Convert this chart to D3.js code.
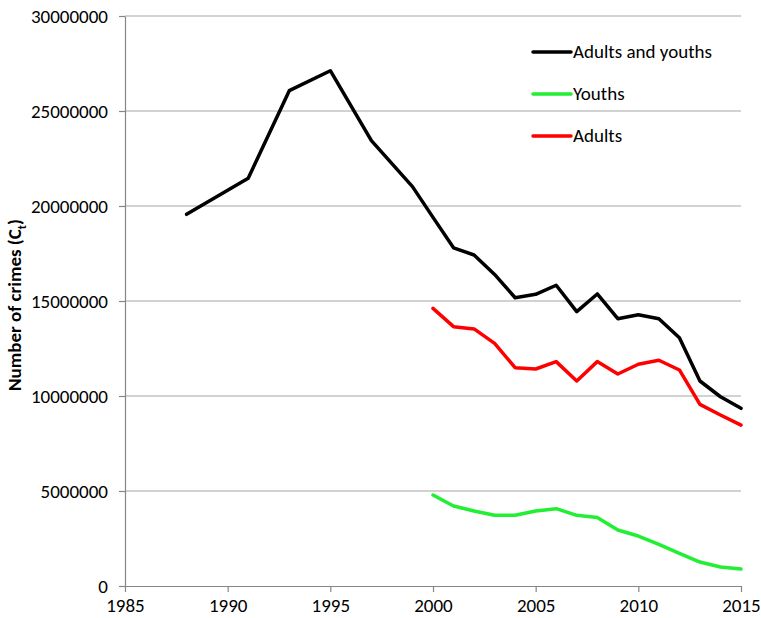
<!DOCTYPE html>
<html>
<head>
<meta charset="utf-8">
<script src="https://cdn.jsdelivr.net/npm/d3@7"></script>
<style>
  body { margin: 0; background: #fff; }
  svg text { font-family: Carlito, "Open Sans", "Noto Sans", sans-serif; fill: #000; }
</style>
</head>
<body>
<div id="chart"></div>
<script>
// values
var totalYears  = [1988, 1991, 1993, 1995, 1997, 1999, 2000, 2001, 2002, 2003, 2004, 2005, 2006, 2007, 2008, 2009, 2010, 2011, 2012, 2013, 2014, 2015];
var totalValues = [19560000, 21460000, 26070000, 27120000, 23440000, 21020000, 19400000, 17800000, 17420000, 16400000, 15170000, 15350000, 15830000, 14440000, 15370000, 14070000, 14280000, 14070000, 13070000, 10790000, 9960000, 9350000];

var splitYears  = [2000, 2001, 2002, 2003, 2004, 2005, 2006, 2007, 2008, 2009, 2010, 2011, 2012, 2013, 2014, 2015];
var youthValues = [4790000, 4210000, 3950000, 3720000, 3720000, 3950000, 4070000, 3720000, 3600000, 2950000, 2630000, 2190000, 1720000, 1260000, 1000000, 890000];
var adultValues = [14610000, 13650000, 13530000, 12770000, 11490000, 11420000, 11810000, 10790000, 11810000, 11160000, 11670000, 11880000, 11370000, 9560000, 9000000, 8470000];

var xTicks = [1985, 1990, 1995, 2000, 2005, 2010, 2015];
var yTicks = [0, 5000000, 10000000, 15000000, 20000000, 25000000, 30000000];

var series = [
  { name: "Adults and youths", color: "#000000", years: totalYears, values: totalValues },
  { name: "Youths",            color: "#22ee33", years: splitYears, values: youthValues },
  { name: "Adults",            color: "#ff0000", years: splitYears, values: adultValues }
];

var W = 761, H = 618;
var m = { left: 125, right: 20, top: 16, bottom: 32 };
var fs = 19;

var svg = d3.select("#chart").append("svg")
  .attr("width", W).attr("height", H);

var x = d3.scaleLinear().domain([1985, 2015]).range([m.left, W - m.right]);
var y = d3.scaleLinear().domain([0, 30000000]).range([H - m.bottom, m.top]);

//gridlines
svg.append("g").selectAll("line")
  .data(yTicks.slice(1))
  .enter().append("line")
  .attr("x1", x(1985)).attr("x2", x(2015))
  .attr("y1", function(d){ return y(d); })
  .attr("y2", function(d){ return y(d); })
  .attr("stroke", "#a6a6a6").attr("stroke-width", 1.2);

//axes
var xAxis = svg.append("g")
  .attr("transform", "translate(0," + y(0) + ")")
  .call(d3.axisBottom(x).tickValues(xTicks).tickFormat(d3.format("d")).tickSize(6).tickSizeOuter(0));
var yAxis = svg.append("g")
  .attr("transform", "translate(" + x(1985) + ",0)")
  .call(d3.axisLeft(y).tickValues(yTicks).tickFormat(d3.format("d")).tickSize(6).tickSizeOuter(0));

[xAxis, yAxis].forEach(function(a){
  a.select(".domain").attr("stroke", "#868686").attr("stroke-width", 1.2);
  a.selectAll(".tick line").attr("stroke", "#868686").attr("stroke-width", 1.2);
  a.selectAll(".tick text").attr("font-size", fs).attr("fill", "#000");
});
xAxis.selectAll(".tick text").attr("y", 10).attr("dy", "0.85em");
yAxis.selectAll(".tick text").attr("x", -17);

//y title
var yt = svg.append("text")
  .attr("transform", "translate(21," + ((m.top + H - m.bottom) / 2 + 4) + ") rotate(-90)")
  .attr("text-anchor", "middle")
  .attr("font-size", fs).attr("font-weight", "bold");
yt.append("tspan").text("Number of crimes (C");
yt.append("tspan").attr("font-size", 12).attr("dy", 5).text("t");
yt.append("tspan").attr("dy", -5).text(")");

//lines
var line = d3.line()
  .x(function(d){ return x(d[0]); })
  .y(function(d){ return y(d[1]); });

svg.append("g").selectAll("path")
  .data(series)
  .enter().append("path")
  .attr("d", function(s){ return line(d3.zip(s.years, s.values)); })
  .attr("fill", "none")
  .attr("stroke", function(s){ return s.color; })
  .attr("stroke-width", 3.5)
  .attr("stroke-linejoin", "round")
  .attr("stroke-linecap", "round");

//legend
var leg = svg.append("g").attr("transform", "translate(533,52)");
var items = leg.selectAll("g").data(series).enter().append("g")
  .attr("transform", function(d, i){ return "translate(0," + (i * 42) + ")"; });
items.append("line")
  .attr("x1", 0).attr("x2", 38).attr("y1", 0).attr("y2", 0)
  .attr("stroke", function(d){ return d.color; })
  .attr("stroke-width", 3.5).attr("stroke-linecap", "round");
items.append("text")
  .attr("x", 40).attr("y", 6)
  .attr("font-size", fs)
  .text(function(d){ return d.name; });
</script>
</body>
</html>
